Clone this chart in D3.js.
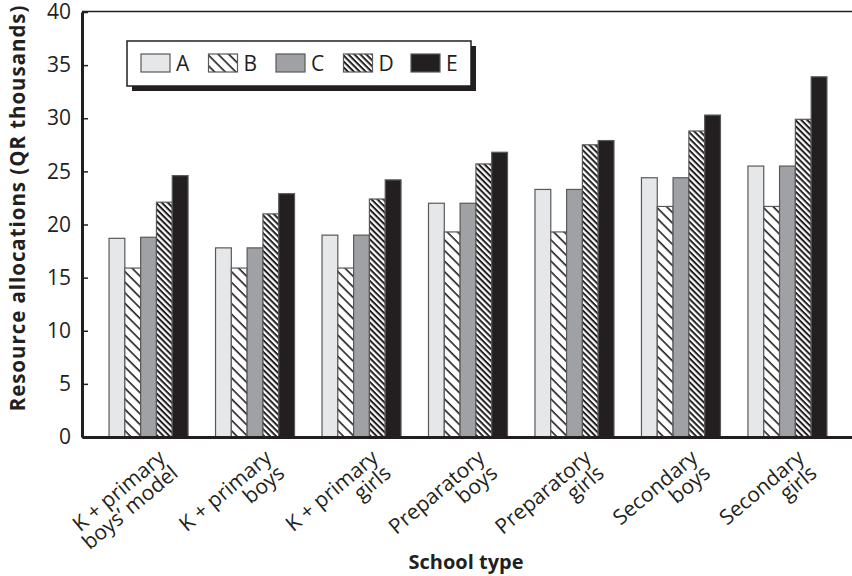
<!DOCTYPE html>
<html>
<head>
<meta charset="utf-8">
<script src="https://cdn.jsdelivr.net/npm/d3@7"></script>
<style>
  html, body { margin: 0; padding: 0; background: #fff; }
  svg { display: block; }
  text { font-family: "Open Sans", "Noto Sans", sans-serif; fill: #231f20; }
</style>
</head>
<body>
<svg id="chart" width="852" height="576"></svg>
<script>
// School types (two-line labels separated by "\n")
const categories = [
  "K + primary\nboys’ model",
  "K + primary\nboys",
  "K + primary\ngirls",
  "Preparatory\nboys",
  "Preparatory\ngirls",
  "Secondary\nboys",
  "Secondary\ngirls"
];
const seriesNames = ["A", "B", "C", "D", "E"];

// Resource allocations, QR thousands, one array per series
const valuesA = [18.7, 17.8, 19.0, 22.0, 23.3, 24.4, 25.5];
const valuesB = [15.9, 15.9, 15.9, 19.3, 19.3, 21.7, 21.7];
const valuesC = [18.8, 17.8, 19.0, 22.0, 23.3, 24.4, 25.5];
const valuesD = [22.1, 21.0, 22.4, 25.7, 27.5, 28.8, 29.9];
const valuesE = [24.6, 22.9, 24.2, 26.8, 27.9, 30.3, 33.9];

const yTicks = [0, 5, 10, 15, 20, 25, 30, 35, 40];

const seriesValues = [valuesA, valuesB, valuesC, valuesD, valuesE];
const rows = categories.map((c, i) => {
  const r = { category: c };
  seriesNames.forEach((s, j) => { r[s] = seriesValues[j][i]; });
  return r;
});

const svg = d3.select("#chart");
const margin = { left: 82, top: 12, bottom: 437 };

// Fills: solid greys for A, C, E and diagonal hatches for B, D
const defs = svg.append("defs");
function hatch(id, spacing, width) {
  const p = defs.append("pattern")
    .attr("id", id)
    .attr("patternUnits", "userSpaceOnUse")
    .attr("width", spacing)
    .attr("height", spacing)
    .attr("patternTransform", "rotate(45)");
  p.append("rect").attr("width", spacing).attr("height", spacing).attr("fill", "#fff");
  p.append("rect").attr("x", 0).attr("y", 0)
    .attr("width", spacing).attr("height", width).attr("fill", "#231f20");
}
hatch("hatchB", 7.5, 1.6);
hatch("hatchD", 4.2, 2.0);

const fills = { A: "#e6e7e8", B: "url(#hatchB)", C: "#a0a1a4", D: "url(#hatchD)", E: "#231f20" };

const x0 = d3.scaleBand()
  .domain(categories)
  .range([margin.left, 854])
  .paddingInner(0.258)
  .paddingOuter(0.254);

const x1 = d3.scaleBand()
  .domain(seriesNames)
  .range([0, x0.bandwidth()]);

const y = d3.scaleLinear()
  .domain([0, 40])
  .range([margin.bottom, margin.top]);

// Bars
const groups = svg.append("g").selectAll("g")
  .data(rows)
  .join("g")
  .attr("transform", d => `translate(${x0(d.category)},0)`);

groups.selectAll("rect")
  .data(d => seriesNames.map(s => ({ key: s, value: d[s] })))
  .join("rect")
  .attr("x", d => x1(d.key))
  .attr("y", d => y(d.value))
  .attr("width", x1.bandwidth())
  .attr("height", d => y(0) - y(d.value))
  .attr("fill", d => fills[d.key])
  .attr("stroke", "#58595b")
  .attr("stroke-width", 1.2);

// Top frame line
svg.append("line")
  .attr("x1", margin.left).attr("x2", 852)
  .attr("y1", y(40) - 0.5).attr("y2", y(40) - 0.5)
  .attr("stroke", "#231f20").attr("stroke-width", 1.5);

// Y axis
const yAxis = svg.append("g")
  .attr("transform", `translate(${margin.left},0)`)
  .call(d3.axisLeft(y).tickValues(yTicks).tickSizeInner(-6).tickSizeOuter(0).tickPadding(10));
yAxis.select(".domain").attr("stroke", "#231f20").attr("stroke-width", 3);
yAxis.selectAll(".tick line").attr("stroke", "#231f20").attr("stroke-width", 1.5);
yAxis.selectAll(".tick text")
  .attr("x", -11)
  .style("font-size", "21px")
  .attr("fill", "#231f20");

// X axis
const xAxis = svg.append("g")
  .attr("transform", `translate(0,${margin.bottom})`)
  .call(d3.axisBottom(x0).tickSize(0).tickFormat(""));
xAxis.select(".domain").attr("stroke", "#231f20").attr("stroke-width", 3);

// Rotated two-line category labels
const labels = svg.append("g").selectAll("text")
  .data(categories)
  .join("text")
  .attr("transform", d => `translate(${x0(d) + x0.bandwidth() / 2 + 18},460) rotate(-40)`)
  .attr("text-anchor", "end")
  .style("font-size", "21px");
labels.each(function (d) {
  const t = d3.select(this);
  d.split("\n").forEach((line, i) => {
    t.append("tspan").attr("x", 0).attr("dy", i === 0 ? 0 : "0.95em").text(line);
  });
});

// Axis titles
svg.append("text")
  .attr("x", 466).attr("y", 569)
  .attr("text-anchor", "middle")
  .style("font-size", "20px").style("font-weight", "bold")
  .text("School type");

svg.append("text")
  .attr("transform", "translate(25,208) rotate(-90)")
  .attr("text-anchor", "middle")
  .style("font-size", "20.5px").style("font-weight", "bold")
  .style("letter-spacing", "0.95px")
  .text("Resource allocations (QR thousands)");

// Legend with drop shadow
const legend = svg.append("g").attr("transform", "translate(127,41)");
legend.append("rect").attr("x", 5).attr("y", 5).attr("width", 344).attr("height", 45).attr("fill", "#231f20");
legend.append("rect").attr("width", 344).attr("height", 45)
  .attr("fill", "#fff").attr("stroke", "#231f20").attr("stroke-width", 1.5);
const items = legend.selectAll("g.item")
  .data(seriesNames)
  .join("g")
  .attr("class", "item")
  .attr("transform", (d, i) => `translate(${14 + i * 67.5},13)`);
items.append("rect")
  .attr("width", 29).attr("height", 18)
  .attr("fill", d => fills[d])
  .attr("stroke", "#58595b").attr("stroke-width", 1.2);
items.append("text")
  .attr("x", 35).attr("y", 16.5)
  .style("font-size", "21px")
  .text(d => d);
</script>
</body>
</html>
